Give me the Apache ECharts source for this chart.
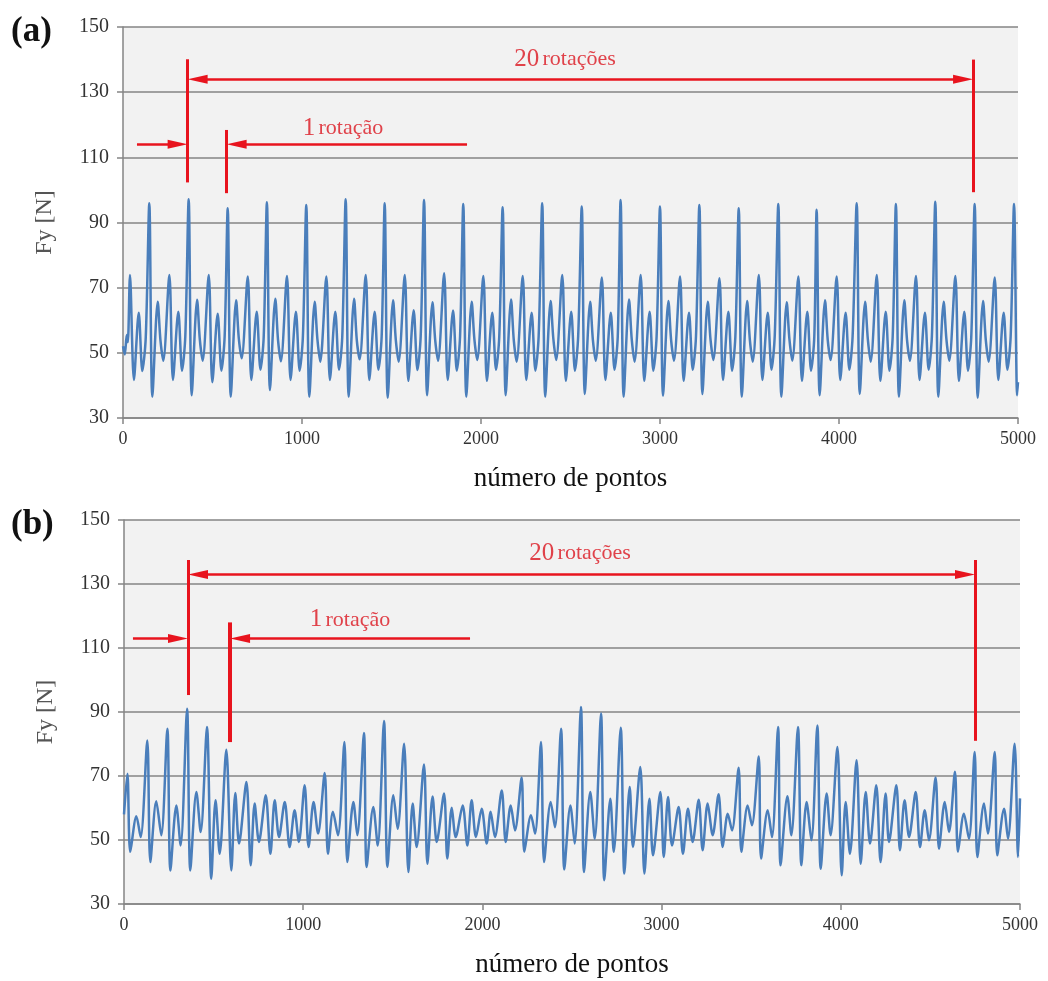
<!DOCTYPE html>
<html><head><meta charset="utf-8">
<script src="https://cdn.jsdelivr.net/npm/echarts@6/dist/echarts.min.js"></script>
<style>html,body{margin:0;padding:0;background:#fff}#c{width:1048px;height:981px}</style>
</head><body><div id="c"></div>
<script>
// ---------- axes ----------
const xTicks = [0, 1000, 2000, 3000, 4000, 5000];
const yTicks = [30, 50, 70, 90, 110, 130, 150];
const xLabel = 'número de pontos';
const yLabel = 'Fy [N]';
const panelLabels = ['(a)', '(b)'];

// ---------- panel (a): Fy (local extrema) ----------
const aX = [0,10,21,27,39,61,88,108,127,
147,164,194,209,225,259,279,309,330,348,
367,384,414,429,445,479,499,529,550,568,
585,602,632,647,663,697,717,747,768,786,
804,821,851,866,882,916,936,966,987,1005,
1024,1041,1071,1086,1102,1136,1156,1186,1207,1225,
1244,1261,1291,1306,1322,1356,1376,1406,1427,1445,
1462,1479,1509,1524,1540,1574,1594,1624,1645,1663,
1682,1699,1729,1744,1760,1794,1814,1844,1865,1883,
1901,1918,1948,1963,1979,2013,2033,2063,2084,2102,
2121,2138,2168,2183,2199,2233,2253,2283,2304,2322,
2342,2359,2389,2404,2420,2454,2474,2504,2525,2543,
2563,2580,2610,2625,2641,2675,2695,2725,2746,2764,
2780,2797,2827,2842,2858,2892,2912,2942,2963,2981,
3000,3017,3047,3062,3078,3112,3132,3162,3183,3201,
3220,3237,3267,3282,3298,3332,3352,3382,3403,3421,
3440,3457,3487,3502,3518,3552,3572,3602,3623,3641,
3661,3678,3708,3723,3739,3773,3793,3823,3844,3862,
3875,3892,3922,3937,3953,3987,4007,4037,4058,4076,
4099,4116,4146,4161,4177,4211,4231,4261,4282,4300,
4318,4335,4365,4380,4396,4430,4450,4480,4501,4519,
4538,4555,4585,4600,4616,4650,4670,4700,4721,4739,
4758,4775,4805,4820,4836,4870,4890,4920,4941,4959,
4978,4995,5000];
const aY = [52.0,49.5,55.5,53.3,73.9,41.7,62.3,44.4,54.6,
95.9,36.5,65.7,54.0,47.6,73.9,41.7,62.6,44.5,55.0,
97.1,37.0,66.3,54.2,47.6,73.9,41.0,62.0,44.5,55.2,
94.4,36.5,66.1,54.4,48.3,73.4,41.7,62.6,44.8,54.8,
96.2,38.6,66.6,54.0,47.4,73.6,41.7,62.6,44.5,55.0,
95.4,36.5,65.7,54.2,47.3,73.4,41.7,62.6,44.8,55.0,
97.1,36.5,66.6,54.0,48.0,73.9,41.7,62.6,44.8,55.0,
95.9,36.2,66.1,54.0,47.3,73.9,41.4,63.1,44.7,55.0,
96.9,37.0,65.5,54.0,47.6,74.4,41.7,63.0,44.5,55.0,
95.7,36.5,65.7,54.2,47.8,73.6,41.4,62.3,44.8,55.0,
94.7,37.0,66.4,54.0,47.3,73.6,41.7,62.3,44.5,55.0,
95.9,36.5,65.9,54.4,47.8,73.9,41.4,62.6,44.5,55.2,
94.9,37.4,65.7,54.0,47.6,73.1,41.7,62.3,44.8,55.0,
96.9,36.5,66.4,54.2,47.3,73.9,41.4,62.6,44.5,55.0,
94.9,36.8,65.9,54.0,47.6,73.4,41.4,62.3,44.8,55.0,
95.4,37.4,65.7,54.2,47.8,72.9,41.7,62.6,44.5,55.0,
94.4,36.5,65.9,54.0,47.3,73.9,41.7,62.3,44.8,55.2,
95.7,36.5,65.5,54.2,47.6,73.4,41.4,62.6,44.5,55.0,
93.9,37.0,66.1,54.0,47.8,73.4,41.7,62.3,44.8,55.0,
95.9,37.4,65.7,54.2,47.3,73.9,41.4,62.6,44.5,55.0,
95.7,36.5,66.1,54.0,47.6,73.6,41.7,62.3,44.8,55.2,
96.4,36.5,65.7,54.2,47.6,73.6,41.4,62.6,44.5,55.0,
95.7,36.2,65.9,54.0,47.3,73.1,41.7,62.3,44.8,55.0,
95.7,37.0,41.0];

// ---------- panel (b) ----------
const bX = [0,19,35,69,93,130,147,180,208,242,259,292,316,352,370,404,428,463,487,511,534,571,599,621,642,683,707,729,753,791,817,841,865,897,924,952,976,1008,1030,1058,1083,1120,1138,1166,1194,1230,1246,1280,1302,1339,1354,1391,1416,1451,1470,1503,1527,1563,1587,1611,1633,1674,1693,1722,1745,1786,1804,1829,1851,1890,1916,1940,1964,1996,2024,2046,2070,2108,2130,2158,2182,2219,2234,2271,2294,2327,2344,2381,2405,2439,2457,2491,2515,2550,2567,2602,2627,2662,2680,2714,2733,2772,2792,2822,2840,2881,2904,2932,2952,2993,3012,3036,3058,3095,3119,3147,3173,3207,3229,3257,3285,3318,3341,3369,3393,3430,3445,3480,3504,3542,3555,3592,3616,3650,3664,3702,3724,3761,3780,3809,3836,3869,3888,3921,3943,3981,4005,4027,4051,4088,4111,4139,4163,4198,4222,4250,4269,4310,4330,4356,4381,4418,4442,4468,4492,4529,4548,4580,4604,4637,4654,4687,4715,4747,4762,4799,4821,4859,4873,4911,4933,4970,4989,5000];
const bY = [58.0,70.7,46.3,57.4,50.9,81.1,43.1,62.1,51.5,84.8,40.5,60.8,48.3,91.0,40.5,65.0,52.5,85.3,37.9,62.4,45.7,78.2,40.5,64.7,48.9,68.1,42.1,61.4,49.4,64.0,45.7,62.4,50.9,61.9,47.8,59.3,49.4,67.1,47.8,61.9,52.0,70.9,45.7,58.8,51.5,80.6,43.1,61.9,51.5,83.4,41.6,60.3,48.3,87.2,41.6,64.0,53.5,80.1,40.0,61.4,47.8,73.6,42.6,63.6,49.4,64.5,44.2,60.1,50.9,60.8,48.3,62.4,50.9,59.8,48.9,58.8,50.9,65.5,49.4,60.8,53.0,69.5,46.3,57.7,52.0,80.6,43.1,61.9,54.0,84.8,40.8,60.8,48.9,91.6,40.0,65.0,50.4,89.5,37.4,62.9,46.3,85.1,39.5,66.6,47.8,72.8,39.5,62.9,45.2,65.0,44.7,63.4,48.3,60.3,45.7,59.8,49.4,62.6,46.8,61.4,51.5,64.3,47.8,58.2,53.0,72.6,46.3,60.8,54.6,76.1,44.2,59.3,50.9,85.3,42.1,63.7,51.5,85.3,42.1,61.9,49.9,85.8,41.0,64.5,51.5,79.1,39.0,61.9,45.7,74.9,42.6,65.0,48.9,67.1,43.1,64.5,49.4,67.1,46.8,62.4,50.9,65.0,47.8,59.3,49.9,69.5,47.3,61.9,52.5,71.3,46.3,58.2,50.4,77.5,44.7,61.4,52.0,77.5,45.2,59.8,50.4,80.1,44.7,63.0];

// ---------- annotations (data units: points, N) ----------
const aVLines = [[361, 140.1, 102.3], [579, 118.4, 99.0], [4749, 140.0, 99.3]];
const aSpan20 = [361, 4749, 134.0];
const aSpan1  = [579, 1922, 114.0];
const aLead   = [78, 361, 114.0];
const aText20 = [2469, 140.0];
const aText1  = [1229, 119.0];

const bVLines = [[357, 137.5, 95.3], [592, 118.0, 80.6], [4749, 137.5, 81.0]];
const bSpan20 = [357, 4749, 133.0];
const bSpan1  = [592, 1931, 113.0];
const bLead   = [50, 357, 113.0];
const bText20 = [2545, 139.7];
const bText1  = [1261, 118.8];

const annotText20 = ['20', 'rotações'];
const annotText1 = ['1', 'rotação'];

// ---------- build ----------
const SERIF = "'Liberation Serif','Times New Roman',serif";
const RED = '#e8141e';
const TXTRED = '#e0424a';
const grids = [
  {left: 123, top: 27, width: 895, height: 391},
  {left: 124, top: 520, width: 896, height: 384}
];
const ARROW = [9, 20];

function zip(xs, ys) { return xs.map((x, i) => [x, ys[i]]); }

function annotations(gi, vLines, span20, span1, lead) {
  const half = (ARROW[1] / 2) * (xTicks[xTicks.length - 1] - xTicks[0]) / grids[gi].width;
  const lines = [];
  vLines.forEach((v, i) => {
    lines.push([{coord: [v[0], v[1]], symbol: 'none', lineStyle: {width: (gi === 1 && i === 1) ? 4 : 3}},
                {coord: [v[0], v[2]], symbol: 'none'}]);
  });
  lines.push([{coord: [span20[0] + half, span20[2]], symbol: 'triangle', lineStyle: {width: 2.5}},
              {coord: [span20[1] - half, span20[2]], symbol: 'triangle'}]);
  lines.push([{coord: [span1[0] + half, span1[2]], symbol: 'triangle', lineStyle: {width: 2.5}},
              {coord: [span1[1], span1[2]], symbol: 'none'}]);
  lines.push([{coord: [lead[0], lead[2]], symbol: 'none', lineStyle: {width: 2.5}},
              {coord: [lead[1] - half, lead[2]], symbol: 'triangle'}]);
  return lines;
}

function textPoints(t20, t1) {
  return [
    {coord: t20, value: 0, label: {formatter: '{n|' + annotText20[0] + '} {w|' + annotText20[1] + '}'}},
    {coord: t1, value: 0, label: {formatter: '{n|' + annotText1[0] + '} {w|' + annotText1[1] + '}'}}
  ];
}

function seriesFor(gi, xs, ys, vLines, span20, span1, lead, t20, t1) {
  return {
    type: 'line', xAxisIndex: gi, yAxisIndex: gi,
    data: zip(xs, ys),
    showSymbol: false, smooth: 0.3,
    lineStyle: {color: '#4a7ebb', width: 2.5},
    itemStyle: {color: '#4a7ebb'},
    silent: true,
    markLine: {
      silent: true, symbol: ['none', 'none'], symbolSize: ARROW,
      label: {show: false},
      lineStyle: {color: RED, type: 'solid', width: 3},
      itemStyle: {color: RED},
      emphasis: {disabled: true},
      data: annotations(gi, vLines, span20, span1, lead)
    },
    markPoint: {
      silent: true, symbol: 'circle', symbolSize: 0,
      label: {show: true, position: 'inside', color: TXTRED,
        rich: {n: {fontFamily: SERIF, fontSize: 25, color: TXTRED},
               w: {fontFamily: SERIF, fontSize: 22, color: TXTRED}}},
      data: textPoints(t20, t1)
    }
  };
}

function xAxisFor(gi) {
  return {
    type: 'value', gridIndex: gi,
    min: xTicks[0], max: xTicks[xTicks.length - 1], interval: xTicks[1] - xTicks[0],
    name: xLabel, nameLocation: 'middle', nameGap: 47,
    nameTextStyle: {fontFamily: SERIF, fontSize: 27, color: '#111'},
    axisLine: {show: true, lineStyle: {color: '#858585', width: 1.5}},
    axisTick: {show: true, length: 6, lineStyle: {color: '#858585', width: 1.5}},
    axisLabel: {fontFamily: SERIF, fontSize: 18, color: '#333', margin: 12, formatter: v => String(v)},
    splitLine: {show: false}
  };
}
function yAxisFor(gi) {
  return {
    type: 'value', gridIndex: gi,
    min: yTicks[0], max: yTicks[yTicks.length - 1], interval: yTicks[1] - yTicks[0],
    name: yLabel, nameLocation: 'middle', nameGap: 66, nameRotate: 90,
    nameTextStyle: {fontFamily: SERIF, fontSize: 24, color: '#555'},
    axisLine: {show: true, lineStyle: {color: '#858585', width: 1.5}},
    axisTick: {show: true, length: 6, lineStyle: {color: '#858585', width: 1.5}},
    axisLabel: {fontFamily: SERIF, fontSize: 20, color: '#333', margin: 14},
    splitLine: {show: true, lineStyle: {color: '#858585', width: 1.5}}
  };
}

const chart = echarts.init(document.getElementById('c'), null, {renderer: 'canvas'});
chart.setOption({
  animation: false,
  backgroundColor: '#ffffff',
  grid: grids.map(g => Object.assign({show: true, backgroundColor: '#f2f2f2', borderWidth: 0, containLabel: false}, g)),
  xAxis: [xAxisFor(0), xAxisFor(1)],
  yAxis: [yAxisFor(0), yAxisFor(1)],
  graphic: [
    {type: 'text', left: 11, top: 14, style: {text: panelLabels[0], font: "bold 35px 'Liberation Serif', serif", fill: '#111'}},
    {type: 'text', left: 11, top: 507, style: {text: panelLabels[1], font: "bold 35px 'Liberation Serif', serif", fill: '#111'}}
  ],
  series: [
    seriesFor(0, aX, aY, aVLines, aSpan20, aSpan1, aLead, aText20, aText1),
    seriesFor(1, bX, bY, bVLines, bSpan20, bSpan1, bLead, bText20, bText1)
  ]
});
</script>
</body></html>
